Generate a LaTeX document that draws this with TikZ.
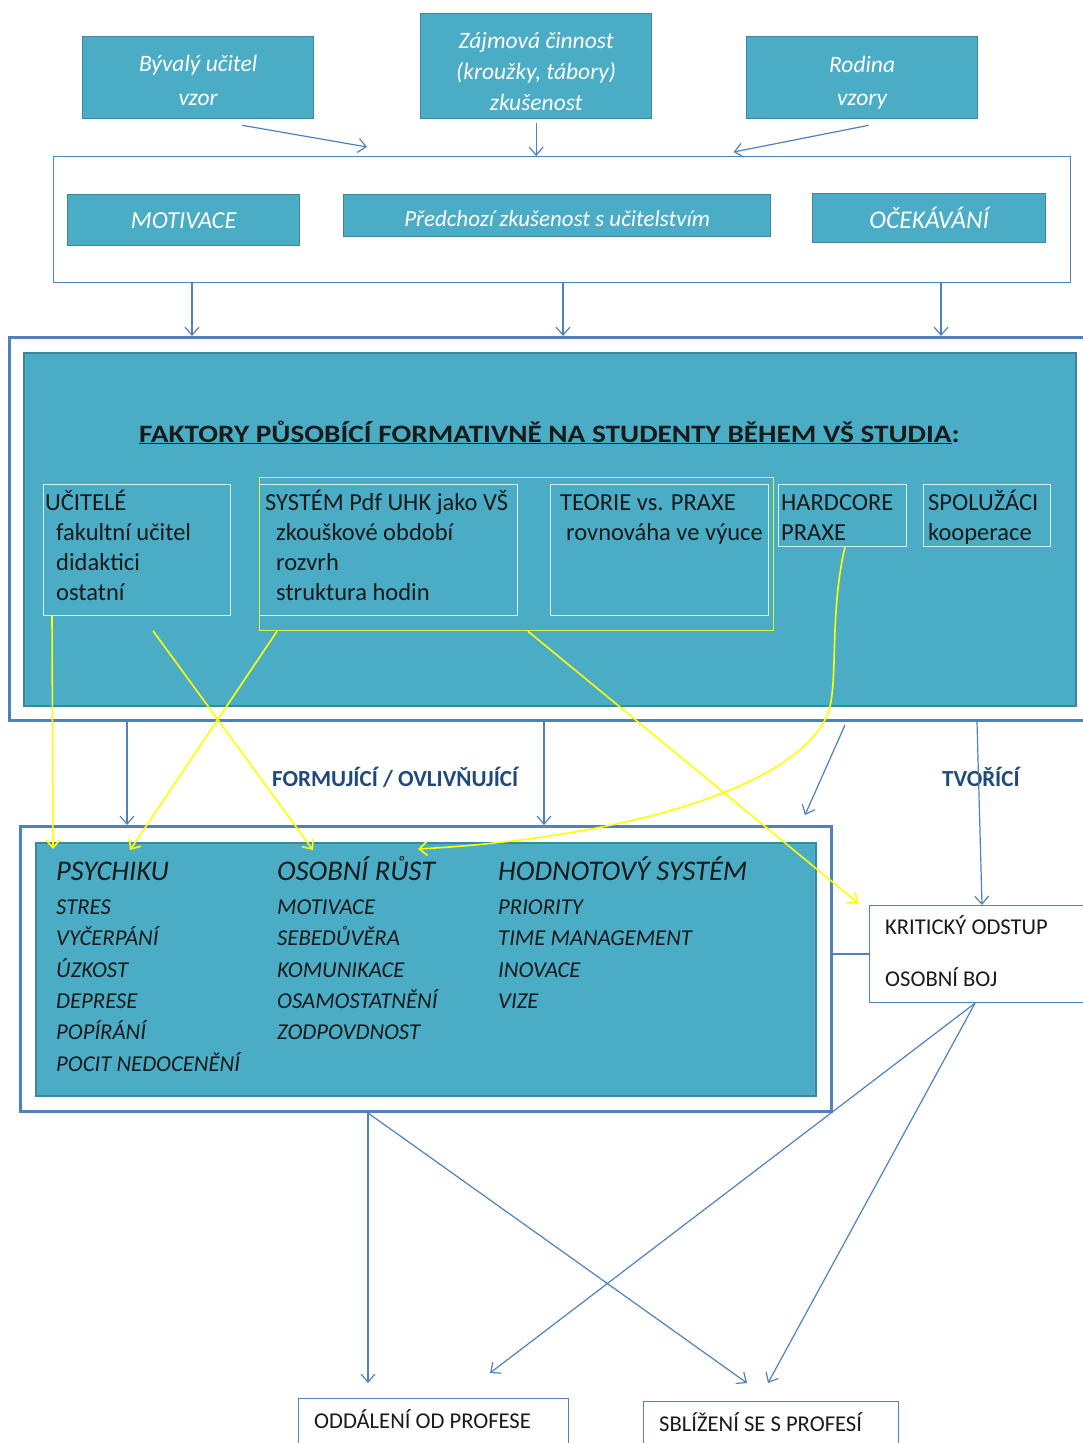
\documentclass[tikz,border=0pt]{standalone}
\usepackage{fontspec}
\usepackage{graphicx}
\setmainfont{Carlito}
\usetikzlibrary{arrows.meta,calc}
\definecolor{tfill}{HTML}{4BACC6}
\definecolor{tborder}{HTML}{3A88A0}
\definecolor{lblue}{HTML}{4F81BD}
\definecolor{ylw}{HTML}{FFFF00}
\definecolor{yboxc}{HTML}{D8F540}
\definecolor{dblue}{HTML}{1F497D}
\definecolor{sbord}{HTML}{D8EEF5}
\definecolor{txt}{HTML}{1A1A1A}
\tikzset{
  tealbox/.style={fill=tfill, draw=tborder, line width=1.3pt, inner sep=0pt, anchor=north west},
  toptext/.style={inner sep=0pt, text=white, align=center},
  midbox/.style={tealbox, text=white, align=center, font=\fontsize{24.5}{28}\selectfont\itshape},
  framebox/.style={fill=white, draw=lblue, inner sep=0pt, anchor=north west},
  subbox/.style={draw=sbord, line width=0.8pt, inner sep=0pt, anchor=north west},
  subtext/.style={anchor=north west, inner sep=0pt, align=left, text=txt, font=\fontsize{24.5}{30}\selectfont},
  colhead/.style={anchor=base west, inner sep=0pt, text=txt, font=\fontsize{28.5}{34}\selectfont\itshape},
  colitems/.style={anchor=north west, inner sep=0pt, align=left, text=txt, font=\fontsize{22.7}{31.4}\selectfont\itshape},
  plain/.style={anchor=base west, inner sep=0pt, text=txt, font=\fontsize{22.6}{27}\selectfont},
  lbl/.style={anchor=base west, inner sep=0pt, text=dblue, font=\fontsize{23}{26}\selectfont\bfseries},
  barrow/.style={draw=lblue, line width=1.2pt, -{Straight Barb[length=8pt,width=14pt]}},
  yarrow/.style={draw=ylw, line width=1.6pt, -{Straight Barb[length=8pt,width=14pt]}},
}
\begin{document}
\begin{tikzpicture}[x=1pt,y=-1pt]
\useasboundingbox (0,0) rectangle (1082,1443);
% top source boxes
\node[tealbox, minimum width=231pt, minimum height=82pt] (bival) at (82,36) {};
\node[toptext, font=\fontsize{23.5}{34}\selectfont\itshape] (bivalT) at ([yshift=-2.5pt]bival.center) {Bývalý učitel\\vzor};
\node[tealbox, minimum width=231pt, minimum height=105pt] (zajm) at (420,13) {};
\node[toptext, font=\fontsize{23.5}{31}\selectfont\itshape] (zajmT) at ([yshift=-5pt]zajm.center) {Zájmová činnost\\(kroužky, tábory)\\zkušenost};
\node[tealbox, minimum width=231pt, minimum height=82pt] (rodina) at (746,36) {};
\node[toptext, font=\fontsize{23.5}{33}\selectfont\itshape] (rodinaT) at ([yshift=-5.5pt]rodina.center) {Rodina\\vzory};
% pre-study frame
\node[framebox, line width=1.2pt, minimum width=1017pt, minimum height=126pt] (prebox) at (53,156) {};
\node[midbox, minimum width=232pt, minimum height=51pt] (motiv) at (67,194) {MOTIVACE};
\node[tealbox, minimum width=427pt, minimum height=42pt] (predch) at (343,194) {};
\node[toptext, font=\fontsize{23}{26}\selectfont\itshape] (predchT) at ([yshift=-3pt]predch.center) {Předchozí zkušenost s učitelstvím};
\node[midbox, minimum width=233pt, minimum height=49pt, font=\fontsize{25.5}{28}\selectfont\itshape] (ocek) at (812,193) {OČEKÁVÁNÍ};
% arrows into prebox
\draw[barrow] ($(bival.south)+(44,6)$) -- ($(prebox.north)+(-195,-9)$);
\draw[barrow] ([yshift=-4pt]zajm.south) -- (zajm.south |- prebox.north);
\draw[barrow] ($(rodina.south)+(6.5,6)$) -- ($(prebox.north)+(171.5,-4)$);
% big factor frame
\node[framebox, line width=3pt, minimum width=1090pt, minimum height=383pt] (outer) at (8,336) {};
\node[tealbox, line width=1.5pt, minimum width=1052pt, minimum height=353pt] (fin) at (23,352) {};
% arrows from prebox
\draw[barrow] ([xshift=139pt]prebox.south west) -- ([xshift=139pt]prebox.south west |- outer.north);
\draw[barrow] ([xshift=510pt]prebox.south west) -- ([xshift=510pt]prebox.south west |- outer.north);
\draw[barrow] ([xshift=888pt]prebox.south west) -- ([xshift=888pt]prebox.south west |- outer.north);
% title
\node[anchor=base west, inner sep=0pt, text=txt, font=\fontsize{25}{28}\selectfont\bfseries] (title) at (139,442) {\scalebox{1.17}[1]{\underline{FAKTORY PŮSOBÍCÍ FORMATIVNĚ NA STUDENTY BĚHEM VŠ STUDIA}:}};
% sub boxes
\node[subbox, minimum width=187pt, minimum height=131pt] (ucit) at (43,484) {};
\node[subbox, minimum width=258pt, minimum height=131pt] (syst) at (259,484) {};
\node[subbox, minimum width=218pt, minimum height=131pt] (teor) at (550,484) {};
\node[subbox, minimum width=128pt, minimum height=62pt] (hard) at (778,484) {};
\node[subbox, minimum width=127pt, minimum height=62pt] (spol) at (923,484) {};
\node[draw=yboxc, line width=1.3pt, inner sep=0pt, anchor=north west, minimum width=514pt, minimum height=153pt] (ybox) at (259,477) {};
\node[subtext] (ucitT) at (45,489) {\strut UČITELÉ\\\hspace*{11pt}fakultní učitel\\\hspace*{11pt}didaktici\\\hspace*{11pt}ostatní};
\node[subtext] (systT) at (265,489) {\strut SYSTÉM Pdf UHK jako VŠ\\\hspace*{11pt}zkouškové období\\\hspace*{11pt}rozvrh\\\hspace*{11pt}struktura hodin};
\node[subtext] (teorT) at (560,489) {\strut TEORIE vs. PRAXE\\\hspace*{6pt}rovnováha ve výuce};
\node[subtext] (hardT) at (781,489) {\strut HARDCORE\\PRAXE};
\node[subtext] (spolT) at (928,489) {\strut SPOLUŽÁCI\\kooperace};
% result frame
\node[framebox, line width=3pt, minimum width=811pt, minimum height=285pt] (bout) at (19,825) {};
\node[tealbox, line width=1.5pt, minimum width=780pt, minimum height=253pt] (bin) at (35,842) {};
\node[colhead] (psy) at (56,880) {PSYCHIKU};
\node[colitems] (psyI) at (56,892.2) {\strut STRES\\VYČERPÁNÍ\\ÚZKOST\\DEPRESE\\POPÍRÁNÍ\\POCIT NEDOCENĚNÍ};
\node[colhead] (rust) at (277,880) {OSOBNÍ RŮST};
\node[colitems] (rustI) at (277,892.2) {\strut MOTIVACE\\SEBEDŮVĚRA\\KOMUNIKACE\\OSAMOSTATNĚNÍ\\ZODPOVDNOST};
\node[colhead] (hodn) at (498,880) {HODNOTOVÝ SYSTÉM};
\node[colitems] (hodnI) at (498,892.2) {\strut PRIORITY\\TIME MANAGEMENT\\INOVACE\\VIZE};
% critical box
\node[framebox, line width=1.2pt, minimum width=220pt, minimum height=97pt] (krit) at (869,905) {};
\node[plain] (kritA) at (885,934) {KRITICKÝ ODSTUP};
\node[plain] (kritB) at (885,986) {OSOBNÍ BOJ};
\draw[draw=lblue, line width=1.5pt] (krit.west -| bout.east) -- (krit.west);
% labels
\node[lbl] (form) at (272,786) {FORMUJÍCÍ / OVLIVŇUJÍCÍ};
\node[lbl] (tvor) at (942,786) {TVOŘÍCÍ};
% blue arrows between frames
\draw[barrow] ([xshift=119pt]outer.south west) -- ([xshift=119pt]outer.south west |- bout.north);
\draw[barrow] ([xshift=536pt]outer.south west) -- ([xshift=536pt]outer.south west |- bout.north);
\draw[barrow] ([xshift=837pt,yshift=-3pt]outer.south west) -- ([xshift=786pt,yshift=10pt]bout.north west);
\draw[barrow] ([xshift=969pt]outer.south west) -- ([xshift=113pt]krit.north west);
% yellow connectors
\draw[yarrow] ([xshift=9pt]ucit.south west) -- ([xshift=18pt,yshift=-7pt]bin.north west);
\draw[yarrow] ([xshift=110pt,yshift=-15pt]ucit.south west) -- ([xshift=278pt,yshift=-8pt]bin.north west);
\draw[yarrow] ([xshift=18pt]ybox.south west) -- ([xshift=95pt,yshift=-8pt]bin.north west);
\draw[yarrow] ([xshift=269pt]ybox.south west) -- ([xshift=-11pt,yshift=2pt]krit.north west);
\draw[yarrow] ([xshift=67pt]hard.south west) .. controls (828,620) and (840,690) .. (826,718) .. controls (790,790) and (620,838) .. ([xshift=383pt,yshift=-7pt]bin.north west);
% bottom outcome boxes
\node[framebox, line width=1.2pt, minimum width=270pt, minimum height=60pt] (oddal) at (298,1398) {};
\node[plain] (oddalT) at (314,1428) {ODDÁLENÍ OD PROFESE};
\node[framebox, line width=1.2pt, minimum width=255pt, minimum height=60pt] (sbliz) at (643,1401) {};
\node[plain] (sblizT) at (659,1431) {SBLÍŽENÍ SE S PROFESÍ};
% bottom arrows
\draw[barrow] ([xshift=349pt]bout.south west) -- ([xshift=70pt,yshift=15pt]oddal.north west);
\draw[barrow] ([xshift=349pt]bout.south west) -- ([xshift=104pt,yshift=18pt]sbliz.north west);
\draw[barrow] ([xshift=106pt]krit.south west) -- ([xshift=192pt,yshift=25pt]oddal.north west);
\draw[barrow] ([xshift=106pt]krit.south west) -- ([xshift=125pt,yshift=18pt]sbliz.north west);
\end{tikzpicture}
\end{document}
